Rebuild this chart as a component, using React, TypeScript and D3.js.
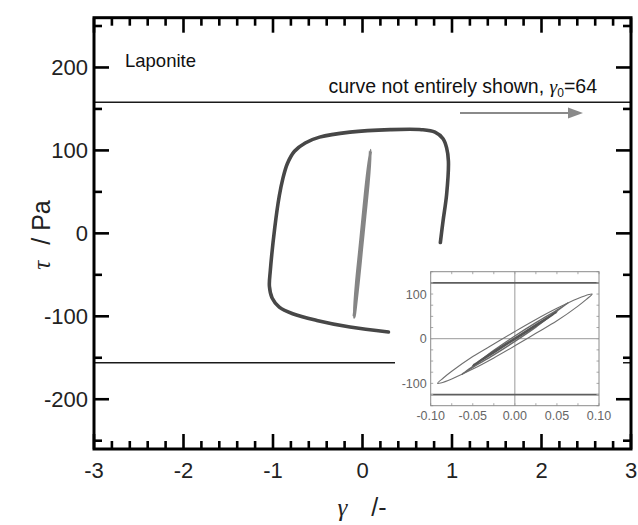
import React from "react";
import * as d3 from "d3";

// ---- data ----
const xMajorTicks = [-3, -2, -1, 0, 1, 2, 3];
const yMajorTicks = [-200, -100, 0, 100, 200];
const insetXTicks = [-0.1, -0.05, 0.0, 0.05, 0.1];
const insetYTicks = [-100, 0, 100];

// main plot: loop at large strain amplitude (dark)
const loopLarge: [number, number][] = [
  [0.29, -119], [-0.14, -113], [-0.51, -105], [-0.78, -97], [-0.93, -89], [-1.01, -78],
  [-1.04, -64], [-1.03, -45], [-0.98, 7], [-0.93, 45], [-0.89, 66], [-0.84, 84],
  [-0.76, 99], [-0.64, 109], [-0.48, 116], [-0.14, 122], [0.31, 125], [0.66, 125],
  [0.81, 122], [0.9, 114], [0.94, 103], [0.96, 87], [0.94, 47], [0.9, 15], [0.87, -11],
];
// main plot: narrow loop (gray)
const loopSmall: [number, number][] = [
  [0.09, 100], [0.061, 60], [0.024, 20], [-0.013, -20], [-0.05, -60], [-0.095, -101],
  [-0.066, -60], [-0.029, -20], [0.008, 20], [0.045, 60],
];
// gamma0 = 64 curve (plateau parts visible)
const plateauUpper: [number, number][] = [[-3, 158], [3, 158]];
const plateauLower: [number, number][] = [[-3, -156], [3, -156]];

// inset loops
const insetOuter: [number, number][] = [
  [-0.092, -100], [-0.085, -88], [-0.075, -73], [-0.05, -40], [-0.025, -12], [0, 16],
  [0.025, 43], [0.05, 68], [0.075, 90], [0.088, 99],
  [0.092, 100], [0.085, 88], [0.075, 73], [0.05, 40], [0.025, 12], [0, -16],
  [-0.025, -43], [-0.05, -68], [-0.075, -90], [-0.088, -99],
];
const insetMiddle: [number, number][] = [
  [-0.063, -80], [-0.05, -62], [-0.025, -26], [0, 6], [0.025, 36], [0.05, 64], [0.06, 76],
  [0.063, 80], [0.05, 62], [0.025, 26], [0, -6], [-0.025, -36], [-0.05, -64], [-0.06, -76],
];
const insetInner: [number, number][] = [
  [-0.05, -60], [-0.025, -29], [0, 1], [0.025, 31], [0.05, 60],
  [0.025, 29], [0, -1], [-0.025, -31],
];
const insetPlateauUpper: [number, number][] = [[-0.1, 125], [0.1, 125]];
const insetPlateauLower: [number, number][] = [[-0.1, -125], [0.1, -125]];

const SANS = "'Liberation Sans', Arial, Helvetica, sans-serif";
const SERIF = "'Liberation Serif', 'Times New Roman', serif";

export default function App() {
  const L = 94, R = 631, T = 17.7, B = 449;
  const x = d3.scaleLinear().domain([-3, 3]).range([L, R]);
  const y = d3.scaleLinear().domain([-260, 260]).range([B, T]);

  const xMinor = d3.range(-3, 3.0001, 0.2).map((v) => +v.toFixed(2));
  const yMinor = d3.range(-250, 251, 50);

  const line = d3.line<[number, number]>().x((d) => x(d[0])).y((d) => y(d[1]));
  const openCurve = d3
    .line<[number, number]>()
    .x((d) => x(d[0]))
    .y((d) => y(d[1]))
    .curve(d3.curveCatmullRom.alpha(0.5));
  const closedCurve = d3
    .line<[number, number]>()
    .x((d) => x(d[0]))
    .y((d) => y(d[1]))
    .curve(d3.curveCatmullRomClosed.alpha(0.5));

  // inset
  const iL = 430.7, iR = 599, iT = 271.7, iB = 405.7;
  const ix = d3.scaleLinear().domain([-0.1, 0.1]).range([iL, iR]);
  const iy = d3.scaleLinear().domain([-150, 150]).range([iB, iT]);
  const iClosed = d3
    .line<[number, number]>()
    .x((d) => ix(d[0]))
    .y((d) => iy(d[1]))
    .curve(d3.curveCatmullRomClosed.alpha(0.5));
  const iLine = d3.line<[number, number]>().x((d) => ix(d[0])).y((d) => iy(d[1]));
  const ixMinor = d3.range(-0.1, 0.1001, 0.025).map((v) => +v.toFixed(3));
  const iyMinor = d3.range(-150, 151, 25);

  const majorLen = 15, minorLen = 8;

  return (
    <svg
      width={638}
      height={525}
      style={{ position: "absolute", left: 0, top: 0, background: "#fff" }}
      fontFamily={SANS}
    >
      <rect x={0} y={0} width={638} height={525} fill="#fff" />
      <defs>
        <clipPath id="plotClip">
          <rect x={L} y={T} width={R - L} height={B - T} />
        </clipPath>
      </defs>

      {/* plateau lines of gamma0 = 64 and loops */}
      <g clipPath="url(#plotClip)">
        <path d={line(plateauUpper)!} stroke="#1a1a1a" strokeWidth={1.6} fill="none" />
        <path d={line(plateauLower)!} stroke="#1a1a1a" strokeWidth={1.6} fill="none" />
        <path d={openCurve(loopLarge)!} stroke="#474747" strokeWidth={3.6} fill="none" strokeLinecap="round" />
        <path d={closedCurve(loopSmall)!} stroke="#858585" strokeWidth={3.4} fill="#858585" />
      </g>

      {/* inset */}
      <g>
        <rect x={395} y={264} width={228} height={166} fill="#fff" />
        <path d={iLine([[0, -150], [0, 150]])!} stroke="#999" strokeWidth={1} fill="none" />
        <path d={iLine([[-0.1, 0], [0.1, 0]])!} stroke="#999" strokeWidth={1} fill="none" />
        <path d={iLine(insetPlateauUpper)!} stroke="#5e5e5e" strokeWidth={1.7} fill="none" />
        <path d={iLine(insetPlateauLower)!} stroke="#5e5e5e" strokeWidth={1.7} fill="none" />
        <path d={iClosed(insetOuter)!} stroke="#707070" strokeWidth={1.1} fill="none" />
        <path d={iClosed(insetMiddle)!} stroke="#6a6a6a" strokeWidth={1.4} fill="none" />
        <path d={iClosed(insetInner)!} stroke="#555" strokeWidth={2} fill="none" />
        {ixMinor.map((v) => (
          <g key={"ixm" + v}>
            <line x1={ix(v)} x2={ix(v)} y1={iT} y2={iT + 2.5} stroke="#aaa" strokeWidth={1} />
            <line x1={ix(v)} x2={ix(v)} y1={iB} y2={iB - 2.5} stroke="#aaa" strokeWidth={1} />
          </g>
        ))}
        {iyMinor.map((v) => (
          <g key={"iym" + v}>
            <line x1={iL} x2={iL + 2.5} y1={iy(v)} y2={iy(v)} stroke="#aaa" strokeWidth={1} />
            <line x1={iR} x2={iR - 2.5} y1={iy(v)} y2={iy(v)} stroke="#aaa" strokeWidth={1} />
          </g>
        ))}
        <rect x={iL} y={iT} width={iR - iL} height={iB - iT} fill="none" stroke="#8a8a8a" strokeWidth={1} />
        {insetXTicks.map((v) => (
          <text key={"ixt" + v} x={ix(v)} y={iB + 14} fontSize={12.5} fill="#666" textAnchor="middle">
            {v.toFixed(2)}
          </text>
        ))}
        {insetYTicks.map((v) => (
          <text key={"iyt" + v} x={iL - 4} y={iy(v) + 4.5} fontSize={12.5} fill="#666" textAnchor="end">
            {v}
          </text>
        ))}
      </g>

      {/* ticks */}
      {xMinor.map((v) => {
        const major = Math.abs(v - Math.round(v)) < 1e-6;
        const len = major ? majorLen : minorLen;
        return (
          <g key={"xt" + v}>
            <line x1={x(v)} x2={x(v)} y1={B} y2={B - len} stroke="#000" strokeWidth={2.6} />
            <line x1={x(v)} x2={x(v)} y1={T} y2={T + len} stroke="#000" strokeWidth={2.6} />
          </g>
        );
      })}
      {yMinor.map((v) => {
        const major = v % 100 === 0;
        const len = major ? majorLen : minorLen;
        return (
          <g key={"yt" + v}>
            <line x1={L} x2={L + len} y1={y(v)} y2={y(v)} stroke="#000" strokeWidth={2.6} />
            <line x1={R} x2={R - len} y1={y(v)} y2={y(v)} stroke="#000" strokeWidth={2.6} />
          </g>
        );
      })}
      <rect x={L} y={T} width={R - L} height={B - T} fill="none" stroke="#000" strokeWidth={3} />

      {/* tick labels */}
      {xMajorTicks.map((v) => (
        <text key={"xl" + v} x={x(v)} y={478} fontSize={22} fill="#222" textAnchor="middle">
          {v}
        </text>
      ))}
      {yMajorTicks.map((v) => (
        <text key={"yl" + v} x={88} y={y(v) + 8} fontSize={22} fill="#222" textAnchor="end">
          {v}
        </text>
      ))}

      {/* axis titles */}
      <text x={362} y={516} fontSize={25} fill="#222" textAnchor="middle">
        <tspan fontFamily={SERIF} fontStyle="italic">γ</tspan>
        <tspan dx={24}>/-</tspan>
      </text>
      <text transform="translate(50,235) rotate(-90)" fontSize={25} fill="#222" textAnchor="middle">
        <tspan fontFamily={SERIF} fontStyle="italic">τ</tspan>
        <tspan dx={16}>/ Pa</tspan>
      </text>

      {/* annotations */}
      <text x={125} y={67} fontSize={18.5} fill="#111">Laponite</text>
      <text x={597} y={93} fontSize={19.5} fill="#111" textAnchor="end">
        curve not entirely shown,{" "}
        <tspan fontFamily={SERIF} fontStyle="italic">γ</tspan>
        <tspan fontSize={12} dy={4}>0</tspan>
        <tspan dy={-4}>=64</tspan>
      </text>
      <line x1={460} y1={113} x2={570} y2={113} stroke="#8a8a8a" strokeWidth={2.2} />
      <path d="M568,107.5 L583,113 L568,118.5 Z" fill="#8a8a8a" />
    </svg>
  );
}
